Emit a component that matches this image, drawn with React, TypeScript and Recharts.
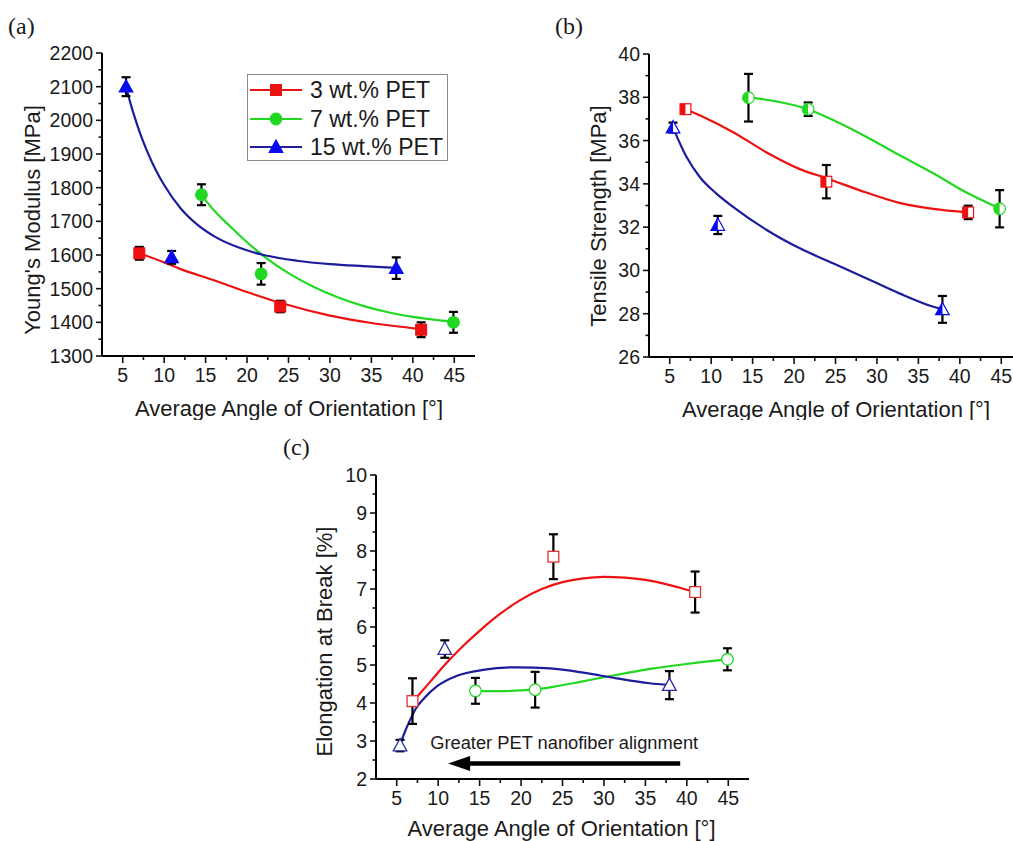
import React from 'react';
import {
  ComposedChart,
  Line,
  Scatter,
  XAxis,
  YAxis,
  ErrorBar,
  Legend,
  ReferenceLine,
} from 'recharts';

// ---------- shared axis data ----------
const X_DOMAIN: [number, number] = [2.5, 47.5];
const X_TICKS = [5, 7.5, 10, 12.5, 15, 17.5, 20, 22.5, 25, 27.5, 30, 32.5, 35, 37.5, 40, 42.5, 45];
const X_LABELS = [5, 10, 15, 20, 25, 30, 35, 40, 45];
const X_TITLE = 'Average Angle of Orientation [°]';

// ---------- panel (a) Young's modulus ----------
const A_Y_DOMAIN: [number, number] = [1300, 2200];
const A_Y_TICKS = [1300, 1350, 1400, 1450, 1500, 1550, 1600, 1650, 1700, 1750, 1800, 1850, 1900, 1950, 2000, 2050, 2100, 2150, 2200];
const A_Y_LABELS = [1300, 1400, 1500, 1600, 1700, 1800, 1900, 2000, 2100, 2200];
const A_Y_TITLE = "Young's Modulus [MPa]";
const A_PET3 = [
  { x: 7, y: 1605, err: 19 },
  { x: 24, y: 1447, err: 17 },
  { x: 41, y: 1378, err: 22 },
];
const A_PET7 = [
  { x: 14.5, y: 1779, err: 31 },
  { x: 21.7, y: 1544, err: 32 },
  { x: 44.9, y: 1400, err: 31 },
];
const A_PET15 = [
  { x: 5.4, y: 2100, err: 28 },
  { x: 10.9, y: 1593, err: 19 },
  { x: 38, y: 1561, err: 32 },
];
const A_FIT3 = [
  { x: 7, y: 1605 }, { x: 10, y: 1578 }, { x: 12, y: 1558 }, { x: 16, y: 1525 },
  { x: 20, y: 1490 }, { x: 24, y: 1458 }, { x: 30, y: 1420 }, { x: 35, y: 1398 }, { x: 41, y: 1380 },
];
const A_FIT7 = [
  { x: 14.5, y: 1778 }, { x: 16, y: 1733 }, { x: 18, y: 1684 }, { x: 20, y: 1638 },
  { x: 22, y: 1597 }, { x: 25, y: 1546 }, { x: 28, y: 1506 }, { x: 31, y: 1474 },
  { x: 34, y: 1449 }, { x: 37, y: 1430 }, { x: 40, y: 1416 }, { x: 42.5, y: 1408 }, { x: 45, y: 1402 },
];
const A_FIT15 = [
  { x: 5.4, y: 2100 }, { x: 6, y: 2045 }, { x: 6.5, y: 2005 }, { x: 7, y: 1968 },
  { x: 8, y: 1905 }, { x: 9, y: 1852 }, { x: 10, y: 1808 }, { x: 12, y: 1738 },
  { x: 14, y: 1690 }, { x: 16, y: 1656 }, { x: 19, y: 1622 }, { x: 22, y: 1600 },
  { x: 26, y: 1583 }, { x: 30, y: 1573 }, { x: 34, y: 1567 }, { x: 38, y: 1562 },
];
const LEGEND_LABELS = ['3 wt.% PET', '7 wt.% PET', '15 wt.% PET'];

// ---------- panel (b) tensile strength ----------
const B_Y_DOMAIN: [number, number] = [26, 40];
const B_Y_TICKS = [26, 27, 28, 29, 30, 31, 32, 33, 34, 35, 36, 37, 38, 39, 40];
const B_Y_LABELS = [26, 28, 30, 32, 34, 36, 38, 40];
const B_Y_TITLE = 'Tensile Strength [MPa]';
const B_PET3 = [
  { x: 6.9, y: 37.45, err: 0.19 },
  { x: 23.9, y: 34.1, err: 0.77 },
  { x: 41, y: 32.68, err: 0.31 },
];
const B_PET7 = [
  { x: 14.5, y: 37.98, err: 1.1 },
  { x: 21.7, y: 37.45, err: 0.31 },
  { x: 44.8, y: 32.85, err: 0.86 },
];
const B_PET15 = [
  { x: 5.4, y: 36.6, err: 0.23 },
  { x: 10.8, y: 32.1, err: 0.42 },
  { x: 37.9, y: 28.2, err: 0.62 },
];
const B_FIT3 = [
  { x: 6.9, y: 37.45 }, { x: 9, y: 37.1 }, { x: 12.6, y: 36.4 }, { x: 16.7, y: 35.45 },
  { x: 20.7, y: 34.68 }, { x: 23.9, y: 34.26 }, { x: 28.7, y: 33.6 }, { x: 32.7, y: 33.12 },
  { x: 36.8, y: 32.84 }, { x: 41, y: 32.68 },
];
const B_FIT7 = [
  { x: 14.5, y: 38.0 }, { x: 18, y: 37.8 }, { x: 21.7, y: 37.45 }, { x: 24.7, y: 36.95 },
  { x: 28.7, y: 36.18 }, { x: 32.7, y: 35.33 }, { x: 36.8, y: 34.49 }, { x: 40.8, y: 33.6 },
  { x: 44.8, y: 32.87 },
];
const B_FIT15 = [
  { x: 5.4, y: 36.6 }, { x: 7, y: 35.26 }, { x: 8.6, y: 34.33 }, { x: 10.6, y: 33.56 },
  { x: 12.6, y: 32.95 }, { x: 16.7, y: 31.87 }, { x: 20.7, y: 31.02 }, { x: 24.7, y: 30.33 },
  { x: 28.7, y: 29.64 }, { x: 32.7, y: 28.94 }, { x: 36.8, y: 28.32 }, { x: 37.9, y: 28.2 },
];

// ---------- panel (c) elongation at break ----------
const C_Y_DOMAIN: [number, number] = [2, 10];
const C_Y_TICKS = [2, 2.5, 3, 3.5, 4, 4.5, 5, 5.5, 6, 6.5, 7, 7.5, 8, 8.5, 9, 9.5, 10];
const C_Y_LABELS = [2, 3, 4, 5, 6, 7, 8, 9, 10];
const C_Y_TITLE = 'Elongation at Break [%]';
const C_PET3 = [
  { x: 6.9, y: 4.05, err: 0.6 },
  { x: 23.9, y: 7.85, err: 0.59 },
  { x: 41, y: 6.92, err: 0.54 },
];
const C_PET7 = [
  { x: 14.5, y: 4.32, err: 0.34 },
  { x: 21.7, y: 4.35, err: 0.47 },
  { x: 44.9, y: 5.15, err: 0.29 },
];
const C_PET15 = [
  { x: 5.4, y: 2.88, err: 0.15 },
  { x: 10.8, y: 5.42, err: 0.23 },
  { x: 37.9, y: 4.47, err: 0.37 },
];
const C_FIT3 = [
  { x: 7.2, y: 4.1 }, { x: 9, y: 4.55 }, { x: 11, y: 5.05 }, { x: 13, y: 5.5 },
  { x: 15, y: 5.9 }, { x: 17.5, y: 6.35 }, { x: 20, y: 6.72 }, { x: 22.5, y: 7.0 },
  { x: 25, y: 7.18 }, { x: 27.5, y: 7.28 }, { x: 30, y: 7.32 }, { x: 32.5, y: 7.3 },
  { x: 35, y: 7.24 }, { x: 37.5, y: 7.13 }, { x: 40, y: 6.98 }, { x: 41, y: 6.92 },
];
const C_FIT7 = [
  { x: 14.5, y: 4.32 }, { x: 17, y: 4.31 }, { x: 20, y: 4.33 }, { x: 21.7, y: 4.36 },
  { x: 24, y: 4.43 }, { x: 27, y: 4.55 }, { x: 30.3, y: 4.69 }, { x: 33, y: 4.8 },
  { x: 36, y: 4.91 }, { x: 39, y: 5.0 }, { x: 42, y: 5.08 }, { x: 44.9, y: 5.15 },
];
const C_FIT15 = [
  { x: 5.4, y: 2.89 }, { x: 6, y: 3.25 }, { x: 6.6, y: 3.55 }, { x: 7.3, y: 3.85 },
  { x: 8.2, y: 4.1 }, { x: 9.8, y: 4.43 }, { x: 12.2, y: 4.71 }, { x: 15.4, y: 4.87 },
  { x: 19.5, y: 4.94 }, { x: 23.5, y: 4.91 }, { x: 27.5, y: 4.8 }, { x: 31.5, y: 4.65 },
  { x: 35.5, y: 4.52 }, { x: 37.9, y: 4.47 },
];
const ARROW_TEXT = 'Greater PET nanofiber alignment';
const ARROW_FROM_X = 39.2;
const ARROW_TO_X = 11.2;
const ARROW_Y = 2.41;

// ---------- styles ----------
const FONT = '"Liberation Sans", Arial, Helvetica, sans-serif';
const SERIF = '"Liberation Serif", "Times New Roman", serif';
const RED = '#ee1111';
const GREEN = '#22d822';
const BLUE_LINE = '#1c1c9c';
const BLUE_MARK = '#0a0aee';
const TXT = '#1a1a1a';

type Kind = 'square' | 'circle' | 'triangle';
type Mode = 'solid' | 'half' | 'open';

function markerShape(kind: Kind, color: string, mode: Mode) {
  return (props: any) => {
    const { cx, cy } = props;
    if (cx == null || cy == null) return <g />;
    const sw = mode === 'open' ? 1.3 : 1.2;
    const bg = mode === 'solid' ? color : '#ffffff';
    if (kind === 'square') {
      const s = 5.4;
      return (
        <g>
          <rect x={cx - s} y={cy - s} width={2 * s} height={2 * s} fill={bg} stroke={color} strokeWidth={sw} />
          {mode === 'half' && <rect x={cx - s} y={cy - s} width={s} height={2 * s} fill={color} />}
        </g>
      );
    }
    if (kind === 'circle') {
      const r = 5.8;
      return (
        <g>
          <circle cx={cx} cy={cy} r={r} fill={bg} stroke={color} strokeWidth={sw} />
          {mode === 'half' && <path d={`M ${cx} ${cy - r} A ${r} ${r} 0 0 0 ${cx} ${cy + r} Z`} fill={color} />}
        </g>
      );
    }
    const h1 = 7;
    const h2 = 5.3;
    const w = 6.8;
    return (
      <g>
        <polygon
          points={`${cx},${cy - h1} ${cx - w},${cy + h2} ${cx + w},${cy + h2}`}
          fill={bg}
          stroke={color}
          strokeWidth={sw}
          strokeLinejoin="miter"
        />
        {mode === 'half' && <polygon points={`${cx},${cy - h1} ${cx - w},${cy + h2} ${cx},${cy + h2}`} fill={color} />}
      </g>
    );
  };
}

function makeXTick(labels: number[]) {
  return (props: any) => {
    const { x, y, payload } = props;
    const v = payload.value;
    const major = labels.includes(v);
    return (
      <g>
        <line x1={x} x2={x} y1={y} y2={y + (major ? 7 : 4)} stroke="#111" strokeWidth={1.6} />
        {major && (
          <text x={x} y={y + 26} textAnchor="middle" fontSize={19.5} fontFamily={FONT} fill={TXT}>
            {v}
          </text>
        )}
      </g>
    );
  };
}

function makeYTick(labels: number[]) {
  return (props: any) => {
    const { x, y, payload } = props;
    const v = payload.value;
    const major = labels.includes(v);
    return (
      <g>
        <line x1={x} x2={x - (major ? 6 : 3.5)} y1={y} y2={y} stroke="#111" strokeWidth={1.6} />
        {major && (
          <text x={x - 9} y={y} dy="0.36em" textAnchor="end" fontSize={19.5} fontFamily={FONT} fill={TXT}>
            {v}
          </text>
        )}
      </g>
    );
  };
}

function xTitle(cx: number, baseline: number) {
  return () => (
    <text x={cx} y={baseline} textAnchor="middle" fontSize={22} fontFamily={FONT} fill={TXT}>
      {X_TITLE}
    </text>
  );
}

function yTitle(text: string, bx: number, cy: number) {
  return () => (
    <text
      x={bx}
      y={cy}
      transform={`rotate(-90, ${bx}, ${cy})`}
      textAnchor="middle"
      fontSize={22}
      fontFamily={FONT}
      fill={TXT}
    >
      {text}
    </text>
  );
}

const AXIS_LINE = { stroke: '#000', strokeWidth: 2 };

type PanelProps = {
  left: number;
  top: number;
  width: number;
  height: number;
  margin: { top: number; right: number; left: number; bottom: number };
  yWidth: number;
  xHeight: number;
  yDomain: [number, number];
  yTicks: number[];
  yLabels: number[];
  xTitlePos: [number, number];
  yTitleText: string;
  yTitlePos: [number, number];
  series: { fit: { x: number; y: number }[]; pts: { x: number; y: number; err: number }[]; line: string; shape: any; name: string }[];
  extra?: React.ReactNode;
  legend?: React.ReactNode;
};

function Panel(p: PanelProps) {
  return (
    <div style={{ position: 'absolute', left: p.left, top: p.top, width: p.width, height: p.height }}>
      <ComposedChart width={p.width} height={p.height} margin={p.margin} style={{ fontFamily: FONT }}>
        <XAxis
          xAxisId="main"
          dataKey="x"
          type="number"
          domain={X_DOMAIN}
          ticks={X_TICKS}
          interval={0}
          height={p.xHeight}
          tickSize={0}
          tickMargin={0}
          tickLine={false}
          axisLine={AXIS_LINE}
          tick={makeXTick(X_LABELS)}
          allowDataOverflow
          label={xTitle(p.xTitlePos[0], p.xTitlePos[1])}
        />
        <XAxis
          xAxisId="top"
          orientation="top"
          type="number"
          domain={X_DOMAIN}
          height={0}
          tick={false}
          tickLine={false}
          axisLine={AXIS_LINE}
          allowDataOverflow
        />
        <YAxis
          yAxisId="main"
          dataKey="y"
          type="number"
          domain={p.yDomain}
          ticks={p.yTicks}
          interval={0}
          width={p.yWidth}
          tickSize={0}
          tickMargin={0}
          tickLine={false}
          axisLine={AXIS_LINE}
          tick={makeYTick(p.yLabels)}
          allowDataOverflow
          label={yTitle(p.yTitleText, p.yTitlePos[0], p.yTitlePos[1])}
        />
        <YAxis
          yAxisId="right"
          orientation="right"
          type="number"
          domain={p.yDomain}
          width={0}
          tick={false}
          tickLine={false}
          axisLine={AXIS_LINE}
          allowDataOverflow
        />
        {p.series.map((s) => (
          <Line
            key={'fit-' + s.name}
            xAxisId="main"
            yAxisId="main"
            data={s.fit}
            dataKey="y"
            type="monotone"
            stroke={s.line}
            strokeWidth={2.2}
            dot={false}
            activeDot={false}
            isAnimationActive={false}
            legendType="none"
          />
        ))}
        {p.series.map((s) => (
          <Scatter
            key={'pts-' + s.name}
            xAxisId="main"
            yAxisId="main"
            name={s.name}
            data={s.pts}
            dataKey="y"
            shape={s.shape}
            isAnimationActive={false}
          >
            <ErrorBar dataKey="err" direction="y" width={4.5} stroke="#000" strokeWidth={2.2} />
          </Scatter>
        ))}
        {p.extra}
        {p.legend}
      </ComposedChart>
    </div>
  );
}

const LEGEND_STYLE = [
  { color: RED, line: RED, kind: 'square' as Kind },
  { color: GREEN, line: GREEN, kind: 'circle' as Kind },
  { color: BLUE_MARK, line: BLUE_LINE, kind: 'triangle' as Kind },
];

function LegendBox() {
  return (
    <div
      style={{
        boxSizing: 'border-box',
        width: 201,
        height: 87,
        border: '1.5px solid #8a8a8a',
        background: '#fff',
        paddingTop: 1,
      }}
    >
      {LEGEND_LABELS.map((lab, i) => {
        const st = LEGEND_STYLE[i];
        const Shape = markerShape(st.kind, st.color, 'solid');
        return (
          <div key={lab} style={{ height: 28.5, display: 'flex', alignItems: 'center' }}>
            <svg width={60} height={24} style={{ display: 'block', flex: 'none' }}>
              <line x1={2} x2={54} y1={12} y2={12} stroke={st.line} strokeWidth={2.2} />
              {Shape({ cx: 28, cy: 12 })}
            </svg>
            <span style={{ fontFamily: FONT, fontSize: 23, color: TXT, lineHeight: '24px', marginLeft: 2, whiteSpace: 'nowrap' }}>
              {lab}
            </span>
          </div>
        );
      })}
    </div>
  );
}

function ArrowShape(props: any) {
  const { x1, y1, x2, y2 } = props;
  if (x1 == null) return <g />;
  const tip = Math.min(x1, x2);
  const tail = Math.max(x1, x2);
  const y = (y1 + y2) / 2;
  const headLen = 22;
  const headHalf = 7.5;
  return (
    <g>
      <line x1={tail} x2={tip + headLen - 1} y1={y} y2={y} stroke="#000" strokeWidth={4.5} />
      <polygon points={`${tip},${y} ${tip + headLen},${y - headHalf} ${tip + headLen},${y + headHalf}`} fill="#000" />
      <text x={(tip + tail) / 2} y={y - 14} textAnchor="middle" fontSize={18.3} fontFamily={FONT} fill={TXT}>
        {ARROW_TEXT}
      </text>
    </g>
  );
}

function PanelLabel({ text, left, baseline }: { text: string; left: number; baseline: number }) {
  return (
    <div
      style={{
        position: 'absolute',
        left,
        top: baseline - 20,
        fontFamily: SERIF,
        fontSize: 24,
        lineHeight: '24px',
        color: TXT,
      }}
    >
      {text}
    </div>
  );
}

export default function App() {
  return (
    <div
      style={{
        position: 'absolute',
        left: 0,
        top: 0,
        width: 1013,
        height: 841,
        overflow: 'hidden',
        background: '#fff',
      }}
    >
      <Panel
        left={0}
        top={0}
        width={500}
        height={420}
        margin={{ top: 53, right: 25, left: 0, bottom: 0 }}
        yWidth={102}
        xHeight={64}
        yDomain={A_Y_DOMAIN}
        yTicks={A_Y_TICKS}
        yLabels={A_Y_LABELS}
        xTitlePos={[289, 416]}
        yTitleText={A_Y_TITLE}
        yTitlePos={[40, 220]}
        series={[
          { name: '3', fit: A_FIT3, pts: A_PET3, line: RED, shape: markerShape('square', RED, 'solid') },
          { name: '7', fit: A_FIT7, pts: A_PET7, line: GREEN, shape: markerShape('circle', GREEN, 'solid') },
          { name: '15', fit: A_FIT15, pts: A_PET15, line: BLUE_LINE, shape: markerShape('triangle', BLUE_MARK, 'solid') },
        ]}
        legend={
          <Legend
            layout="vertical"
            align="center"
            verticalAlign="middle"
            wrapperStyle={{ left: 247, top: 74, width: 201, height: 87 }}
            content={() => <LegendBox />}
          />
        }
      />
      <Panel
        left={500}
        top={0}
        width={540}
        height={420}
        margin={{ top: 54, right: 18, left: 0, bottom: 0 }}
        yWidth={149}
        xHeight={63}
        yDomain={B_Y_DOMAIN}
        yTicks={B_Y_TICKS}
        yLabels={B_Y_LABELS}
        xTitlePos={[336, 416.5]}
        yTitleText={B_Y_TITLE}
        yTitlePos={[106, 216]}
        series={[
          { name: '3', fit: B_FIT3, pts: B_PET3, line: RED, shape: markerShape('square', RED, 'half') },
          { name: '7', fit: B_FIT7, pts: B_PET7, line: GREEN, shape: markerShape('circle', GREEN, 'half') },
          { name: '15', fit: B_FIT15, pts: B_PET15, line: BLUE_LINE, shape: markerShape('triangle', BLUE_MARK, 'half') },
        ]}
      />
      <Panel
        left={260}
        top={420}
        width={510}
        height={421}
        margin={{ top: 55, right: 21, left: 0, bottom: 0 }}
        yWidth={116}
        xHeight={62}
        yDomain={C_Y_DOMAIN}
        yTicks={C_Y_TICKS}
        yLabels={C_Y_LABELS}
        xTitlePos={[301.5, 415.5]}
        yTitleText={C_Y_TITLE}
        yTitlePos={[71.7, 221.5]}
        series={[
          { name: '3', fit: C_FIT3, pts: C_PET3, line: RED, shape: markerShape('square', '#dd3333', 'open') },
          { name: '7', fit: C_FIT7, pts: C_PET7, line: GREEN, shape: markerShape('circle', GREEN, 'open') },
          { name: '15', fit: C_FIT15, pts: C_PET15, line: BLUE_LINE, shape: markerShape('triangle', '#2a2aa8', 'open') },
        ]}
        extra={
          <ReferenceLine
            xAxisId="main"
            yAxisId="main"
            segment={[
              { x: ARROW_FROM_X, y: ARROW_Y },
              { x: ARROW_TO_X, y: ARROW_Y },
            ]}
            shape={(props: any) => <ArrowShape {...props} />}
          />
        }
      />
      <PanelLabel text="(a)" left={8} baseline={34} />
      <PanelLabel text="(b)" left={555} baseline={34} />
      <PanelLabel text="(c)" left={283} baseline={454.5} />
    </div>
  );
}
